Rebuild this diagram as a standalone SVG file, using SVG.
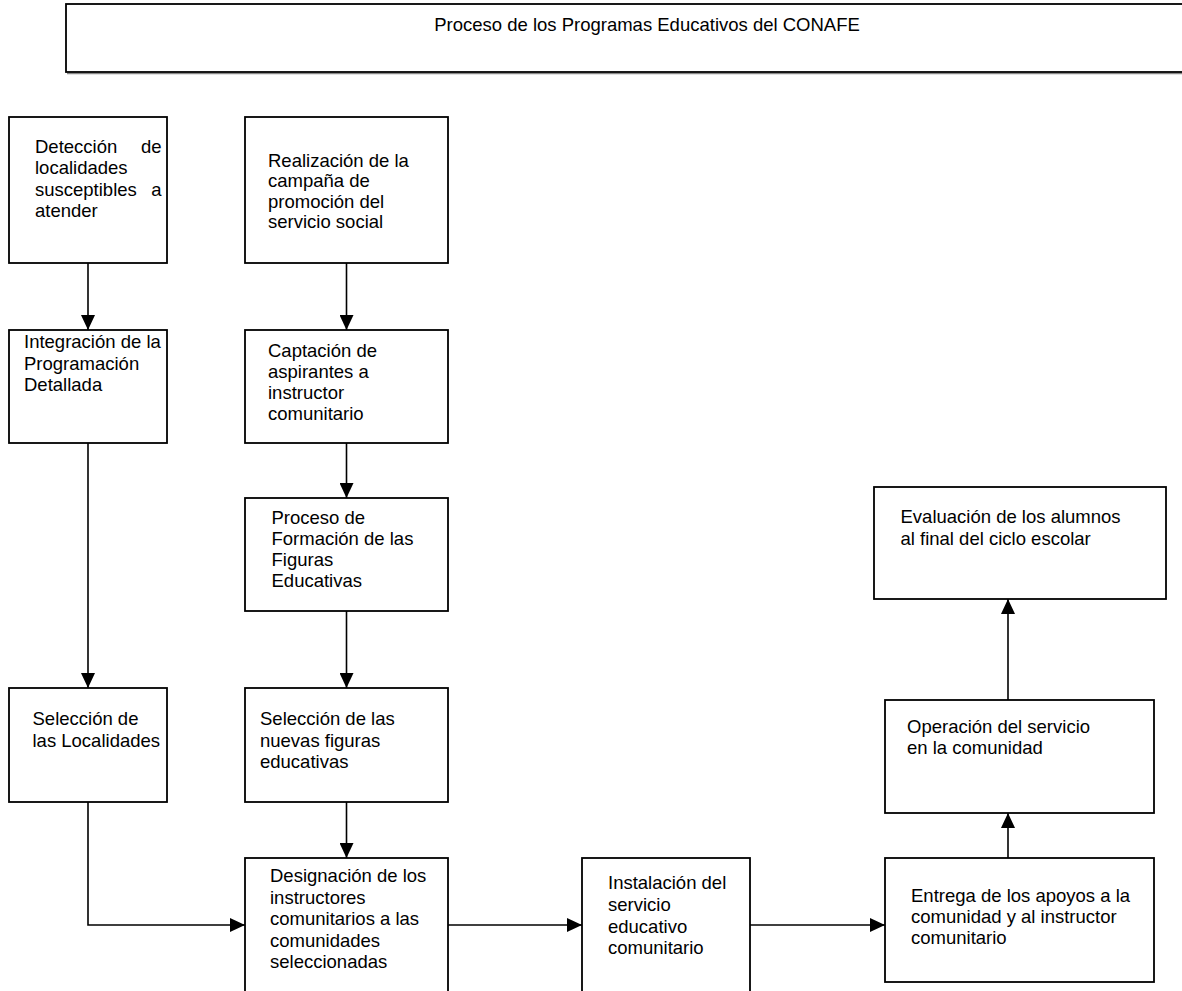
<svg xmlns="http://www.w3.org/2000/svg" width="1182" height="991" viewBox="0 0 1182 991">
<defs>
<style>
.box{fill:#fff;stroke:#000;stroke-width:1.8}
.t{font-family:"Liberation Sans",Arial,sans-serif;font-size:18.5px;fill:#000}
.e{text-anchor:end}
.c{fill:none;stroke:#000;stroke-width:1.6}
</style>
<marker id="ah" markerUnits="userSpaceOnUse" markerWidth="16" markerHeight="14" refX="15" refY="7" orient="auto">
<path d="M0,0 L15,7 L0,14 z" fill="#000"/>
</marker>
</defs>
<rect width="1182" height="991" fill="#fff"/>
<g id="title">
<line x1="67" y1="73.5" x2="1182" y2="73.5" stroke="#888" stroke-width="1.5"/>
<rect class="box" x="66" y="4" width="1130" height="68"/>
<text class="t" x="647" y="31" text-anchor="middle">Proceso de los Programas Educativos del CONAFE</text>
</g>
<g id="connectors">
<path class="c" d="M88,263 V330" marker-end="url(#ah)"/>
<path class="c" d="M88,443 V688" marker-end="url(#ah)"/>
<path class="c" d="M346.5,263 V330" marker-end="url(#ah)"/>
<path class="c" d="M346.5,443 V498" marker-end="url(#ah)"/>
<path class="c" d="M346.5,611 V688" marker-end="url(#ah)"/>
<path class="c" d="M346.5,802 V858" marker-end="url(#ah)"/>
<path class="c" d="M88,802 V925 H245" marker-end="url(#ah)"/>
<path class="c" d="M448,925 H582" marker-end="url(#ah)"/>
<path class="c" d="M750,925 H885" marker-end="url(#ah)"/>
<path class="c" d="M1008,858 V813" marker-end="url(#ah)"/>
<path class="c" d="M1008,700 V599" marker-end="url(#ah)"/>
</g>
<g id="n-deteccion">
<rect class="box" x="9" y="117" width="158" height="146"/>
<text class="t" x="35" y="153">Detección</text><text class="t e" x="161.5" y="153">de</text>
<text class="t" x="35" y="174">localidades</text>
<text class="t" x="35" y="196">susceptibles</text><text class="t e" x="161.5" y="196">a</text>
<text class="t" x="35" y="217">atender</text>
</g>
<g id="n-realizacion">
<rect class="box" x="245" y="117" width="203" height="146"/>
<text class="t" x="268" y="166.5">Realización de la</text>
<text class="t" x="268" y="187">campaña de</text>
<text class="t" x="268" y="207.5">promoción del</text>
<text class="t" x="268" y="228">servicio social</text>
</g>
<g id="n-integracion">
<rect class="box" x="9" y="330" width="158" height="113"/>
<text class="t" x="24" y="348">Integración de la</text>
<text class="t" x="24" y="369.5">Programación</text>
<text class="t" x="24" y="391">Detallada</text>
</g>
<g id="n-captacion">
<rect class="box" x="245" y="330" width="203" height="113"/>
<text class="t" x="268" y="356.5">Captación de</text>
<text class="t" x="268" y="377.5">aspirantes a</text>
<text class="t" x="268" y="398.5">instructor</text>
<text class="t" x="268" y="419.5">comunitario</text>
</g>
<g id="n-proceso">
<rect class="box" x="245" y="498" width="203" height="113"/>
<text class="t" x="271.5" y="524">Proceso de</text>
<text class="t" x="271.5" y="545">Formación de las</text>
<text class="t" x="271.5" y="566">Figuras</text>
<text class="t" x="271.5" y="587">Educativas</text>
</g>
<g id="n-seleccion-loc">
<rect class="box" x="9" y="688" width="158" height="114"/>
<text class="t" x="32.5" y="724.5">Selección de</text>
<text class="t" x="32.5" y="747">las Localidades</text>
</g>
<g id="n-seleccion-fig">
<rect class="box" x="245" y="688" width="203" height="114"/>
<text class="t" x="260" y="724.5">Selección de las</text>
<text class="t" x="260" y="747">nuevas figuras</text>
<text class="t" x="260" y="768">educativas</text>
</g>
<g id="n-designacion">
<rect class="box" x="245" y="858" width="203" height="150"/>
<text class="t" x="270" y="882">Designación de los</text>
<text class="t" x="270" y="903.5">instructores</text>
<text class="t" x="270" y="925">comunitarios a las</text>
<text class="t" x="270" y="947">comunidades</text>
<text class="t" x="270" y="968">seleccionadas</text>
</g>
<g id="n-instalacion">
<rect class="box" x="582" y="858" width="168" height="150"/>
<text class="t" x="608" y="889">Instalación del</text>
<text class="t" x="608" y="911">servicio</text>
<text class="t" x="608" y="932.5">educativo</text>
<text class="t" x="608" y="954">comunitario</text>
</g>
<g id="n-entrega">
<rect class="box" x="885" y="858" width="269" height="124"/>
<text class="t" x="911" y="901.5">Entrega de los apoyos a la</text>
<text class="t" x="911" y="922.5">comunidad y al instructor</text>
<text class="t" x="911" y="944">comunitario</text>
</g>
<g id="n-operacion">
<rect class="box" x="885" y="700" width="269" height="113"/>
<text class="t" x="907" y="732.5">Operación del servicio</text>
<text class="t" x="907" y="754">en la comunidad</text>
</g>
<g id="n-evaluacion">
<rect class="box" x="874" y="487" width="292" height="112"/>
<text class="t" x="900.5" y="523">Evaluación de los alumnos</text>
<text class="t" x="900.5" y="545">al final del ciclo escolar</text>
</g>
</svg>
